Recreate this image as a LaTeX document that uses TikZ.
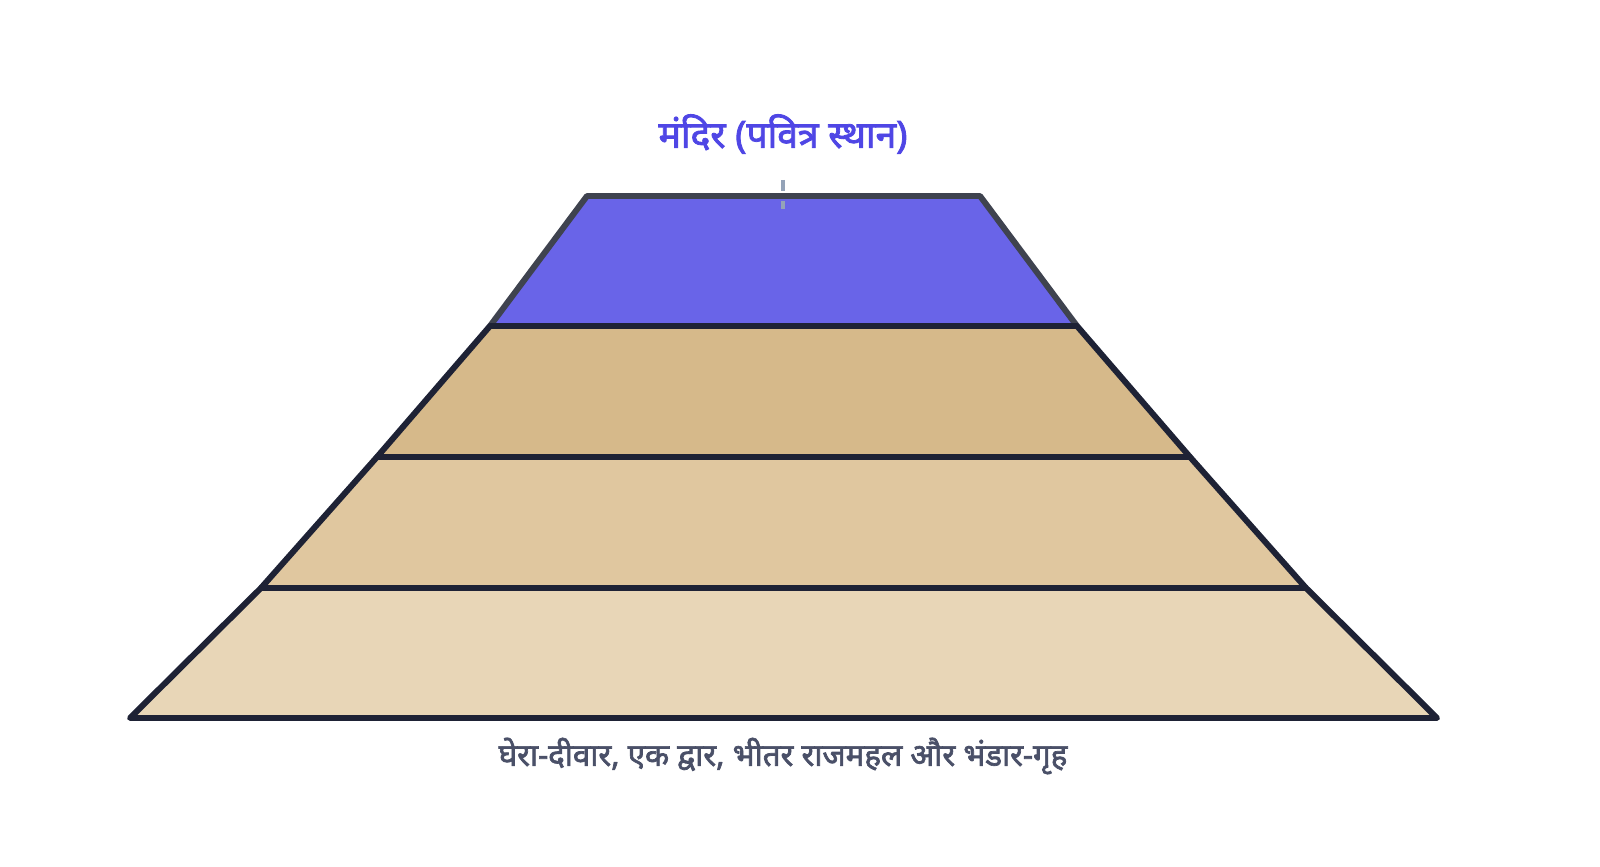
\documentclass[tikz,border=0pt]{standalone}
\usepackage{fontspec}
\newfontfamily\hindi[Script=Devanagari, FakeBold=2.2]{Noto Sans}
\usepackage{tikz}
\usetikzlibrary{positioning}
\definecolor{temple}{HTML}{6964E8}
\definecolor{tierA}{HTML}{D6B98A}
\definecolor{tierB}{HTML}{E0C79F}
\definecolor{tierC}{HTML}{E8D6B7}
\definecolor{edge}{HTML}{1E2235}
\definecolor{topedge}{HTML}{3F434F}
\definecolor{titlec}{HTML}{4F46E5}
\definecolor{capc}{HTML}{4A5068}
\definecolor{tickc}{HTML}{94A3B8}
\tikzset{
	x=0.01cm, y=-0.01cm, % pixel-like coordinates
	tier/.style={draw=edge, line width=1.7pt, line join=round}, % layers
	title/.style={font=\hindi\fontsize{10.6}{13}\selectfont, text=titlec},
	caption/.style={font=\hindi\fontsize{8.9}{11}\selectfont, text=capc}
}

\begin{document}
\begin{tikzpicture}
	\useasboundingbox (0,0) rectangle (1600,867);
	% corners of the tiers
	\coordinate (a1) at (587,196); \coordinate (a2) at (980,196);
	\coordinate (b1) at (490,326); \coordinate (b2) at (1077,326);
	\coordinate (c1) at (377,457); \coordinate (c2) at (1190,457);
	\coordinate (d1) at (261,588); \coordinate (d2) at (1306,588);
	\coordinate (e1) at (130,718); \coordinate (e2) at (1437,718);
	\fill[tierC] (d1) -- (d2) -- (e2) -- (e1) -- cycle;
	\fill[tierB] (c1) -- (c2) -- (d2) -- (d1) -- cycle;
	\fill[tierA] (b1) -- (b2) -- (c2) -- (c1) -- cycle;
	\fill[temple] (a1) -- (a2) -- (b2) -- (b1) -- cycle;
	\draw[tier, draw=topedge] (b1) -- (a1) -- (a2) -- (b2);
	\draw[tier] (d1) -- (d2) -- (e2) -- (e1) -- cycle;
	\draw[tier] (c1) -- (c2) -- (d2) -- (d1) -- cycle;
	\draw[tier] (b1) -- (b2) -- (c2) -- (c1) -- cycle;
	\node[title] (mandir) at (783,134) {मंदिर (पवित्र स्थान)};
	\coordinate (tick1) at (783,180); \coordinate (tick2) at (783,209);
	\draw[tickc, line width=0.9pt, dash pattern=on 3pt off 3pt] (tick1) -- (tick2);
	\node[caption] (ghera) at (783,756) {घेरा-दीवार, एक द्वार, भीतर राजमहल और भंडार-गृह};
\end{tikzpicture}
\end{document}
